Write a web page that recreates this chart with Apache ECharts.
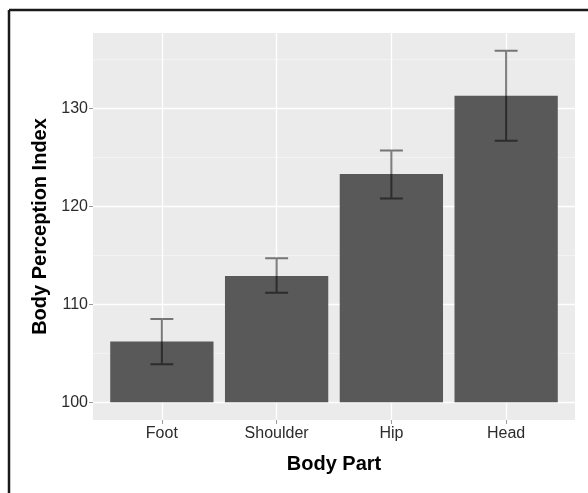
<!DOCTYPE html>
<html>
<head>
<meta charset="utf-8">
<script src="https://cdn.jsdelivr.net/npm/echarts@6/dist/echarts.min.js"></script>
<style>html,body{margin:0;padding:0;background:#fff}#c{width:588px;height:493px}</style>
</head>
<body>
<div id="c"></div>
<script>
const categories = ['Foot', 'Shoulder', 'Hip', 'Head'];
const means = [106.2, 112.9, 123.3, 131.3];
const lowers = [103.9, 111.2, 120.8, 126.7];
const uppers = [108.5, 114.7, 125.7, 135.9];
const yMajorTicks = [100, 110, 120, 130];
const yMinorTicks = [105, 115, 125, 135];
const xPositions = [1, 2, 3, 4];

const chart = echarts.init(document.getElementById('c'), null, {renderer: 'canvas'});
const FONT = 'Liberation Sans, Arial, sans-serif';

const barData = categories.map((c, i) => [xPositions[i], means[i]]);
const errData = categories.map((c, i) => [xPositions[i], lowers[i], uppers[i]]);

chart.setOption({
  animation: false,
  graphic: [
    {type: 'line', shape: {x1: 9, y1: 10, x2: 588, y2: 10}, style: {stroke: '#1a1a1a', lineWidth: 2.5}},
    {type: 'line', shape: {x1: 9, y1: 10, x2: 9, y2: 493}, style: {stroke: '#1a1a1a', lineWidth: 2.5}}
  ],
  grid: {left: 93, right: 13, top: 33, bottom: 73, show: true, backgroundColor: '#ebebeb', borderWidth: 0},
  xAxis: {
    type: 'value', min: 0.4, max: 4.6,
    name: 'Body Part', nameLocation: 'middle', nameGap: 34,
    nameTextStyle: {fontFamily: FONT, fontSize: 20, fontWeight: 'bold', color: '#000'},
    axisLine: {show: false},
    axisTick: {show: true, length: 4, lineStyle: {color: '#999', width: 1}, customValues: xPositions},
    axisLabel: {customValues: xPositions, margin: 6, fontFamily: FONT, fontSize: 16, color: '#2b2b2b',
      formatter: v => categories[Math.round(v) - 1] || ''},
    splitLine: {show: true, lineStyle: {color: '#fff', width: 1.3}}
  },
  yAxis: [{
    type: 'value', min: 98.2, max: 137.7,
    name: 'Body Perception Index', nameLocation: 'middle', nameGap: 42,
    nameTextStyle: {fontFamily: FONT, fontSize: 20, fontWeight: 'bold', color: '#000'},
    axisLine: {show: false},
    axisTick: {show: true, length: 4, lineStyle: {color: '#999', width: 1}, customValues: yMajorTicks},
    axisLabel: {customValues: yMajorTicks, margin: 5, fontFamily: FONT, fontSize: 16, color: '#2b2b2b'},
    splitLine: {show: true, lineStyle: {color: '#fff', width: 1.3}}
  }, {
    type: 'value', min: 98.2, max: 137.7, position: 'left',
    axisLine: {show: false},
    axisTick: {show: false, customValues: yMinorTicks},
    axisLabel: {show: false, customValues: yMinorTicks},
    splitLine: {show: true, lineStyle: {color: '#f7f7f7', width: 0.7}}
  }],
  series: [{
    type: 'custom',
    data: barData,
    z: 3,
    renderItem: function (params, api) {
      const x = api.value(0), v = api.value(1);
      const top = api.coord([x, v]);
      const base = api.coord([x, 100]);
      const w = api.size([0.9, 0])[0];
      return {type: 'rect', shape: {x: top[0] - w / 2, y: top[1], width: w, height: base[1] - top[1]},
        style: {fill: '#595959'}};
    }
  }, {
    type: 'custom',
    data: errData,
    z: 4,
    renderItem: function (params, api) {
      const x = api.value(0);
      const lo = api.coord([x, api.value(1)]);
      const hi = api.coord([x, api.value(2)]);
      const w = api.size([0.2, 0])[0];
      const cx = lo[0];
      const d = 'M' + (cx - w / 2) + ' ' + hi[1] + 'L' + (cx + w / 2) + ' ' + hi[1] +
        'M' + cx + ' ' + hi[1] + 'L' + cx + ' ' + lo[1] +
        'M' + (cx - w / 2) + ' ' + lo[1] + 'L' + (cx + w / 2) + ' ' + lo[1];
      return {type: 'path', shape: {pathData: d},
        style: {fill: null, stroke: 'rgba(0,0,0,0.5)', lineWidth: 2}};
    }
  }]
});
</script>
</body>
</html>
